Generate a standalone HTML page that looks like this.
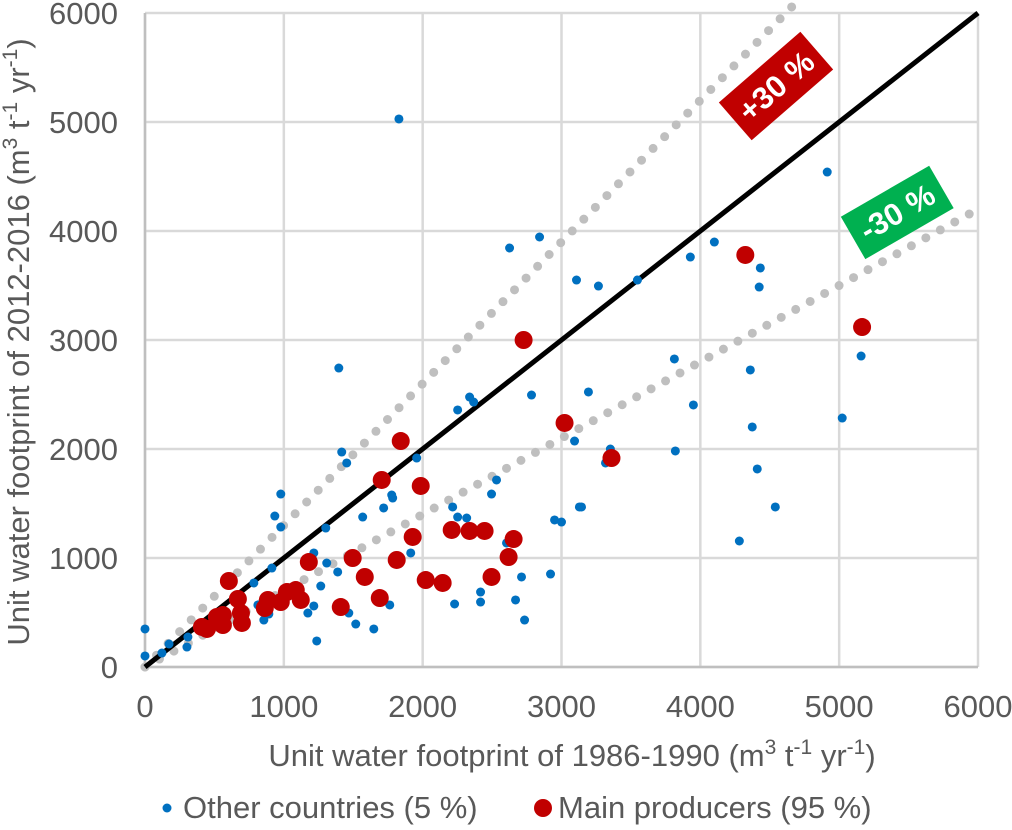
<!DOCTYPE html>
<html><head><meta charset="utf-8"><style>
body{margin:0;background:#fff;}
svg{display:block;font-family:"Liberation Sans",Arial,sans-serif;}
</style></head><body>
<svg id="chart" width="1012" height="830" viewBox="0 0 1012 830" xmlns="http://www.w3.org/2000/svg">
<g id="grid"></g>
<g id="refs"></g>
<g id="pts"></g>
<g id="ticks"></g>
<g transform="translate(776,86) rotate(-41)">
<rect x="-54" y="-25" width="108" height="50" fill="#c00000"/>
<text x="0" y="11" text-anchor="middle" font-size="31" font-weight="bold" fill="#fff">+30 %</text></g>
<g transform="translate(897,212) rotate(-30)">
<rect x="-51" y="-24" width="102" height="49" fill="#00b050"/>
<text x="0" y="11" text-anchor="middle" font-size="31" font-weight="bold" fill="#fff">-30 %</text></g>
<text x="572" y="766" text-anchor="middle" font-size="31" fill="#595959">Unit water footprint of 1986-1990 (m<tspan font-size="21" dy="-12">3</tspan><tspan dy="12"> t</tspan><tspan font-size="21" dy="-12">-1</tspan><tspan dy="12"> yr</tspan><tspan font-size="21" dy="-12">-1</tspan><tspan dy="12">)</tspan></text>
<text transform="translate(29,342) rotate(-90)" text-anchor="middle" font-size="31" fill="#595959">Unit water footprint of 2012-2016 (m<tspan font-size="21" dy="-12">3</tspan><tspan dy="12"> t</tspan><tspan font-size="21" dy="-12">-1</tspan><tspan dy="12"> yr</tspan><tspan font-size="21" dy="-12">-1</tspan><tspan dy="12">)</tspan></text>
<g>
<g><circle cx="167" cy="808" r="4.5" fill="#0070c0"/><text x="183" y="818" font-size="31" fill="#595959">Other countries (5 %)</text></g>
<g><circle cx="543" cy="808" r="9" fill="#c00000"/><text x="558" y="818" font-size="31" fill="#595959">Main producers (95 %)</text></g>
</g>
</svg>
<script>
const xTicks=[0,1000,2000,3000,4000,5000,6000];
const yTicks=[0,1000,2000,3000,4000,5000,6000];
const mainX=[604,410,446,518,561,561,669,691,698,885,863,978,1022,1086,1122,1180,1410,1496,1583,1691,1813,1705,1842,1986,1928,2022,2144,2209,2338,2446,2496,2655,2619,3022,2727,3360,4324,5165];
const mainY=[789,367,349,459,477,385,624,495,404,615,541,596,688,706,615,963,550,1000,826,633,982,1716,2073,1661,1193,798,771,1257,1248,1248,826,1174,1009,2239,3000,1917,3780,3119];
const otherX=[0,0,122,173,309,302,856,892,813,914,784,978,935,978,1237,1302,1216,1309,1266,1216,1173,1388,1468,1518,1648,1568,1719,1777,1784,1763,1957,1914,1417,1453,2230,2417,2417,2669,2734,2712,2921,2216,2252,2317,2496,2532,2604,2950,3000,3094,3129,1829,1396,2252,2338,2367,2784,2626,2842,3108,3266,3547,3194,3144,3317,3352,3813,3820,3928,4101,3950,4374,4360,4432,4424,4281,4410,4540,4914,5158,5022];
const otherY=[349,101,128,211,275,183,431,486,569,908,771,1284,1385,1587,239,1275,1046,954,743,560,495,872,495,394,349,1376,1459,1578,1550,569,1917,1046,1972,1872,578,596,688,615,431,826,853,1468,1376,1367,1587,1716,1138,1349,1330,2073,1468,5028,2743,2358,2477,2431,2495,3844,3945,3550,3495,3550,2523,1468,1872,2000,2826,1982,3761,3899,2404,2202,2725,3661,3486,1156,1817,1468,4541,2853,2284];
const refSlopes=[1.3,0.7];
const L=145,R=978,T=13,B=667;
const sx=v=>L+(v/6000)*(R-L), sy=v=>B-(v/6000)*(B-T);
const NS='http://www.w3.org/2000/svg';
function mk(t,a,p){const e=document.createElementNS(NS,t);for(const k in a)e.setAttribute(k,a[k]);p.appendChild(e);return e;}
const grid=document.getElementById('grid'),ticks=document.getElementById('ticks');
xTicks.forEach(v=>{
 const l=mk('line',{x1:sx(v),x2:sx(v),y1:T,y2:B,stroke:'#d9d9d9','stroke-width':2.5},grid);
 
 
 const t=mk('text',{x:sx(v),y:717,'text-anchor':'middle','font-size':31,fill:'#595959'},ticks);t.textContent=v;
 
 
});
yTicks.forEach(v=>{
 const l=mk('line',{x1:L,x2:R,y1:sy(v),y2:sy(v),stroke:'#d9d9d9','stroke-width':2.5},grid);
 
 
 const t=mk('text',{x:118,y:sy(v)+11,'text-anchor':'end','font-size':31,fill:'#595959'},ticks);t.textContent=v;
 
 
});
const ax1=mk('line',{x1:L,x2:L,y1:T,y2:B,stroke:'#bfbfbf','stroke-width':2.5},grid);


const ax2=mk('line',{x1:L,x2:R,y1:B,y2:B,stroke:'#bfbfbf','stroke-width':2.5},grid);


const refs=document.getElementById('refs');
refSlopes.forEach(s=>{
 const xe=Math.min(6000,6080/s);
 const l=mk('line',{x1:sx(0),y1:sy(0),x2:sx(xe),y2:sy(xe*s),stroke:'#bfbfbf','stroke-width':9,'stroke-linecap':'round','stroke-dasharray':'0 16.5'},refs);
 
 
});
const one=mk('line',{x1:sx(0),y1:sy(0),x2:sx(6000),y2:sy(6000),stroke:'#000','stroke-width':5},refs);


const pts=document.getElementById('pts');
otherX.forEach((x,i)=>{const c=mk('circle',{cx:sx(x),cy:sy(otherY[i]),r:4.5,fill:'#0070c0'},pts);
 
 });
mainX.forEach((x,i)=>{const c=mk('circle',{cx:sx(x),cy:sy(mainY[i]),r:9,fill:'#c00000'},pts);
 
 });
</script>
</body></html>
